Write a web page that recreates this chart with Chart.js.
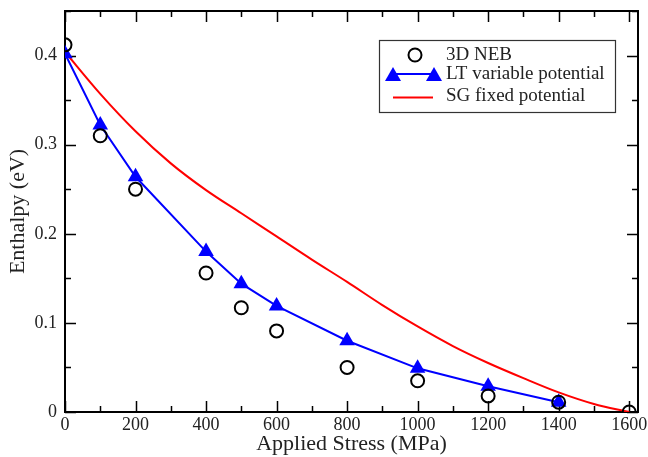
<!DOCTYPE html>
<html>
<head>
<meta charset="utf-8">
<script src="https://cdn.jsdelivr.net/npm/chart.js@4"></script>
<style>
  html, body { margin: 0; padding: 0; background: #fff; }
  #wrap { width: 648px; height: 457px; }
</style>
</head>
<body>
<div id="wrap"><canvas id="enthalpyChart"></canvas></div>
<script>
// enthalpy barrier vs applied stress
const nebStress = [0, 100, 200, 400, 500, 600, 800, 1000, 1200, 1400, 1600];
const nebEnthalpy = [0.412, 0.310, 0.250, 0.156, 0.117, 0.091, 0.050, 0.035, 0.018, 0.011, 0.0];

const ltStress = [0, 100, 200, 400, 500, 600, 800, 1000, 1200, 1400];
const ltEnthalpy = [0.402, 0.322, 0.264, 0.180, 0.144, 0.119, 0.080, 0.049, 0.029, 0.011];

const sgStress = [0, 100, 200, 300, 400, 500, 600, 700, 800, 900, 1000, 1100, 1200, 1300, 1400, 1500, 1600];
const sgEnthalpy = [0.404, 0.357, 0.315, 0.279, 0.249, 0.223, 0.197, 0.171, 0.146, 0.120, 0.096, 0.074, 0.055, 0.038, 0.022, 0.009, 0.0];

const xTickLabels = [0, 200, 400, 600, 800, 1000, 1200, 1400, 1600];
const yTickLabels = [0, 0.1, 0.2, 0.3, 0.4];

const seriesNames = ["3D NEB", "LT variable potential", "SG fixed potential"];

const serif = "'Liberation Serif', 'DejaVu Serif', serif";

function toPoints(xs, ys) {
  return xs.map((x, i) => ({ x: x, y: ys[i] }));
}

// frame with inward ticks on all four sides
const frameTicks = {
  id: "frameTicks",
  beforeDatasetsDraw(chart) {
    const ctx = chart.ctx;
    const a = chart.chartArea;
    const xs = chart.scales.x, ys = chart.scales.y;
    ctx.save();
    ctx.strokeStyle = "#000";
    ctx.lineWidth = 1.5;
    ctx.beginPath();
    for (let v = 0; v <= 1600; v += 100) {
      const px = Math.round(xs.getPixelForValue(v)) + 0.5;
      const len = v % 200 === 0 ? 11 : 6;
      ctx.moveTo(px, a.bottom); ctx.lineTo(px, a.bottom - len);
      ctx.moveTo(px, a.top); ctx.lineTo(px, a.top + len);
    }
    for (let k = 0; k <= 9; k++) {
      const v = k * 0.05;
      const py = Math.round(ys.getPixelForValue(v)) + 0.5;
      const len = k % 2 === 0 ? 11 : 6;
      ctx.moveTo(a.left, py); ctx.lineTo(a.left + len, py);
      ctx.moveTo(a.right, py); ctx.lineTo(a.right - len, py);
    }
    ctx.stroke();
    ctx.lineWidth = 2;
    ctx.strokeRect(a.left, a.top, a.right - a.left, a.bottom - a.top);
    ctx.restore();
  },
};

// boxed legend in the upper right corner
const boxLegend = {
  id: "boxLegend",
  afterDraw(chart) {
    const ctx = chart.ctx;
    const ds = chart.data.datasets;
    const left = 379, top = 40, w = 236, h = 72;
    ctx.save();
    ctx.fillStyle = "#fff";
    ctx.fillRect(left, top, w, h);
    ctx.strokeStyle = "#333";
    ctx.lineWidth = 1.2;
    ctx.strokeRect(left + 0.5, top + 0.5, w, h);

    const rows = [55, 74, 96];
    ctx.font = "19px " + serif;
    ctx.fillStyle = "#222";
    ctx.textBaseline = "middle";
    rows.forEach((y, i) => ctx.fillText(seriesNames[i], 446, y));

    // 3D NEB symbol
    ctx.lineWidth = 2;
    ctx.strokeStyle = ds[0].borderColor;
    ctx.beginPath();
    ctx.arc(415, rows[0], 6.5, 0, Math.PI * 2);
    ctx.stroke();

    // LT line with two triangles
    ctx.strokeStyle = ds[1].borderColor;
    ctx.beginPath();
    ctx.moveTo(393, rows[1]); ctx.lineTo(434, rows[1]);
    ctx.stroke();
    ctx.fillStyle = ds[1].pointBackgroundColor;
    [393, 434].forEach((cx) => {
      ctx.beginPath();
      ctx.moveTo(cx, rows[1] - 7);
      ctx.lineTo(cx + 8, rows[1] + 7);
      ctx.lineTo(cx - 8, rows[1] + 7);
      ctx.closePath();
      ctx.fill();
    });

    // SG line
    ctx.strokeStyle = ds[2].borderColor;
    ctx.beginPath();
    ctx.moveTo(393, rows[2] + 1.5); ctx.lineTo(433, rows[2] + 1.5);
    ctx.stroke();
    ctx.restore();
  },
};

const data = {
  datasets: [
    {
      label: seriesNames[0],
      data: toPoints(nebStress, nebEnthalpy),
      showLine: false,
      pointStyle: "circle",
      pointRadius: 6.5,
      pointBorderWidth: 2,
      borderColor: "#000",
      pointBorderColor: "#000",
      pointBackgroundColor: "rgba(0,0,0,0)",
      backgroundColor: "rgba(0,0,0,0)",
    },
    {
      label: seriesNames[1],
      data: toPoints(ltStress, ltEnthalpy),
      borderColor: "#0000ff",
      borderWidth: 2,
      tension: 0,
      pointStyle: "triangle",
      pointRadius: 9,
      pointBorderWidth: 0,
      pointBackgroundColor: "#0000ff",
      pointBorderColor: "#0000ff",
    },
    {
      label: seriesNames[2],
      data: toPoints(sgStress, sgEnthalpy),
      borderColor: "#ff0000",
      borderWidth: 2,
      cubicInterpolationMode: "monotone",
      pointRadius: 0,
    },
  ],
};

const options = {
  responsive: false,
  animation: false,
  layout: { padding: { top: 11, right: 10, left: 0, bottom: 0 } },
  plugins: { legend: { display: false }, tooltip: { enabled: false } },
  scales: {
    x: {
      type: "linear",
      min: 0,
      max: 1625,
      grid: { display: false, drawTicks: false },
      border: { display: false },
      afterBuildTicks: (s) => { s.ticks = xTickLabels.map((v) => ({ value: v })); },
      afterFit: (s) => { s.height = 45; s.paddingLeft = 0; s.paddingRight = 0; },
      ticks: {
        padding: 2,
        maxRotation: 0,
        autoSkip: false,
        color: "#222",
        font: { family: serif, size: 18 },
        callback: (v) => String(v),
      },
      title: {
        display: true,
        text: "Applied Stress (MPa)",
        color: "#222",
        font: { family: serif, size: 22 },
        padding: { top: 0, bottom: 0 },
      },
    },
    y: {
      type: "linear",
      min: 0,
      max: 0.45,
      grid: { display: false, drawTicks: false },
      border: { display: false },
      afterBuildTicks: (s) => { s.ticks = yTickLabels.map((v) => ({ value: v })); },
      afterFit: (s) => { s.width = 65; s.paddingTop = 0; s.paddingBottom = 0; },
      ticks: {
        padding: 8,
        color: "#222",
        font: { family: serif, size: 18 },
        callback: (v) => (v === 0 ? "0" : v.toFixed(1)),
      },
      title: {
        display: true,
        text: "Enthalpy (eV)",
        color: "#222",
        font: { family: serif, size: 22 },
        padding: { top: 5, bottom: 0 },
      },
    },
  },
};

const canvas = document.getElementById("enthalpyChart");
canvas.width = 648;
canvas.height = 457;
const chart = new Chart(canvas, {
  type: "line",
  data: data,
  options: options,
  plugins: [frameTicks, boxLegend],
});
</script>
</body>
</html>
